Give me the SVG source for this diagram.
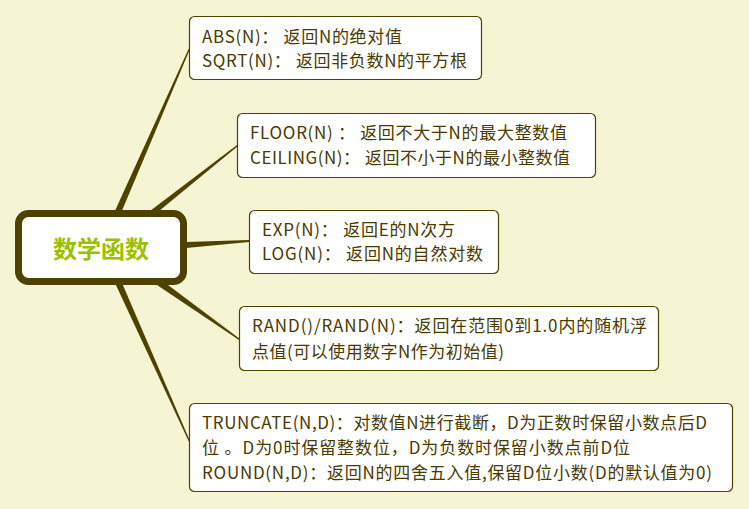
<svg xmlns="http://www.w3.org/2000/svg" width="749" height="509" viewBox="0 0 749 509">
<style>
.bg{fill:#f5f5d4}
.box{fill:#ffffff;stroke:#4d4200;stroke-width:1.2}
.t{font-family:"Microsoft YaHei","Noto Sans CJK SC",sans-serif;font-size:17px;fill:#4a3a00}
.conn{fill:#4d4200}
.main{fill:#ffffff;stroke:#4d4200;stroke-width:7}
.mt{font-family:"Noto Sans CJK SC",sans-serif;font-size:24px;font-weight:bold;fill:#9dbf00}
</style>
<rect class="bg" x="0" y="0" width="749" height="509"/>
<g id="connectors">
<polygon class="conn" points="114,213 121,213 190,49 189,48"/>
<polygon class="conn" points="146,214 153,216 238,146 237,145"/>
<polygon class="conn" points="186,242 186,248 249,242 249,240"/>
<polygon class="conn" points="154,283 160,279 240,339 239,340"/>
<polygon class="conn" points="115,283 122,283 190,441 189,442"/>
</g>
<g id="main">
<rect class="main" x="18.5" y="213.5" width="165" height="68" rx="10"/>
<text class="mt" x="101" y="258" text-anchor="middle">数学函数</text>
</g>
<g id="n1">
<rect class="box" x="189.5" y="16.5" width="292" height="63" rx="5"/>
<text class="t" x="202" y="43" textLength="200">ABS(N)： 返回N的绝对值</text>
<text class="t" x="202" y="67" textLength="265">SQRT(N)： 返回非负数N的平方根</text>
</g>
<g id="n2">
<rect class="box" x="237.5" y="113.5" width="358" height="64" rx="5"/>
<text class="t" x="250" y="139" textLength="317">FLOOR(N) ： 返回不大于N的最大整数值</text>
<text class="t" x="250" y="164" textLength="320">CEILING(N)： 返回不小于N的最小整数值</text>
</g>
<g id="n3">
<rect class="box" x="249.5" y="210.5" width="249" height="63" rx="5"/>
<text class="t" x="262" y="236" textLength="193">EXP(N)： 返回E的N次方</text>
<text class="t" x="262" y="260" textLength="221">LOG(N)： 返回N的自然对数</text>
</g>
<g id="n4">
<rect class="box" x="239.5" y="306.5" width="419" height="64" rx="5"/>
<text class="t" x="252" y="332" textLength="395">RAND()/RAND(N)：返回在范围0到1.0内的随机浮</text>
<text class="t" x="252" y="358" textLength="252">点值(可以使用数字N作为初始值)</text>
</g>
<g id="n5">
<rect class="box" x="189.5" y="403.5" width="543" height="88" rx="5"/>
<text class="t" x="202" y="429" textLength="505">TRUNCATE(N,D)：对数值N进行截断，D为正数时保留小数点后D</text>
<text class="t" x="202" y="454" textLength="428">位 。D为0时保留整数位，D为负数时保留小数点前D位</text>
<text class="t" x="202" y="479" textLength="510">ROUND(N,D)：返回N的四舍五入值,保留D位小数(D的默认值为0)</text>
</g>
</svg>
